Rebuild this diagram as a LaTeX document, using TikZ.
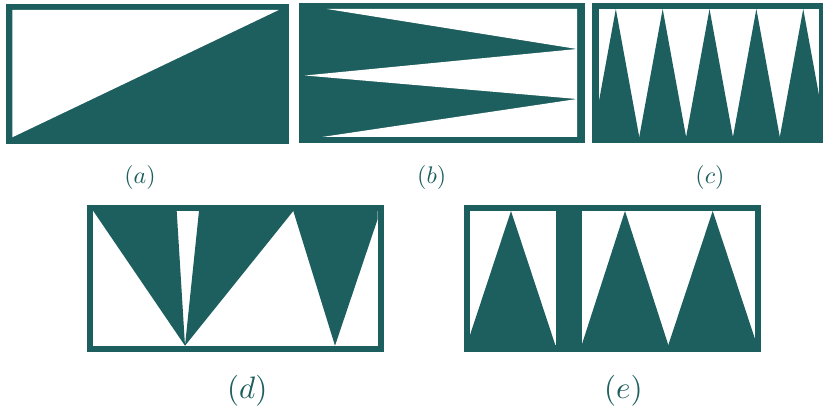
\documentclass[tikz,border=0pt]{standalone}
\definecolor{tealc}{RGB}{29,95,94}
\tikzset{
  frame/.style={fill=tealc},
  hole/.style={fill=white},
  tri/.style={fill=tealc},
  lblsmall/.style={text=tealc,inner sep=0pt,scale=2.4,transform shape},
  lblbig/.style={text=tealc,inner sep=0pt,scale=3.1,transform shape}
}
\begin{document}
\begin{tikzpicture}[x=1pt,y=-1pt]
\useasboundingbox (0,0) rectangle (823,412);
% (a)
\fill[frame] (6,4) rectangle (289,144);
\fill[hole] (12.3,10) -- (278.7,10) -- (12.3,137.3) -- cycle;
% (b)
\fill[frame] (299,3) rectangle (585,143);
\fill[hole] (327,9) -- (577,9) -- (577,49) -- cycle;
\fill[hole] (305,75.5) -- (577,49) -- (577,99) -- cycle;
\fill[hole] (322,137) -- (577,99) -- (577,137) -- cycle;
% (c)
\fill[frame] (592,3) rectangle (826,143);
\fill[hole] (599,9) rectangle (819,137);
\begin{scope}
  \clip (599,9) rectangle (819,137);
  \foreach \k in {0,...,4}{
    \fill[tri] ({592.4+46.85*\k},137) -- ({592.4+46.85*\k+23.425},9) -- ({592.4+46.85*(\k+1)},137) -- cycle;
  }
\end{scope}
% (d)
\fill[frame] (87.3,205) rectangle (384.3,351.7);
\fill[hole] (93.3,211) rectangle (377.7,345.7);
\begin{scope}
  \clip (93.3,211) rectangle (377.7,345.7);
  \fill[tri] (93.3,211) -- (176.7,211) -- (185,345.7) -- cycle;
  \fill[tri] (199,211) -- (293.3,211) -- (185,345.7) -- cycle;
  \fill[tri] (293.3,211) -- (380.4,211) -- (335,345.7) -- cycle;
\end{scope}
% (e)
\fill[frame] (464,205) rectangle (760.7,351.7);
\fill[hole] (470,211) rectangle (755,345);
\begin{scope}
  \clip (470,211) rectangle (755,345);
  \fill[tri] (466.7,345) -- (511,211) -- (555.3,345) -- cycle;
  \fill[tri] (581.7,345) -- (625,211) -- (668.3,345) -- cycle;
  \fill[tri] (668.3,345) -- (712.7,211) -- (757,345) -- cycle;
\end{scope}
\fill[frame] (555.7,205) rectangle (581.7,351.7);
% labels
\node[lblsmall] (la) at (140,177) {$(a)$};
\node[lblsmall] (lb) at (431.7,177) {$(b)$};
\node[lblsmall] (lc) at (710,177) {$(c)$};
\node[lblbig] (ld) at (247.3,391) {$(d)$};
\node[lblbig] (le) at (623.3,391) {$(e)$};
\end{tikzpicture}
\end{document}
